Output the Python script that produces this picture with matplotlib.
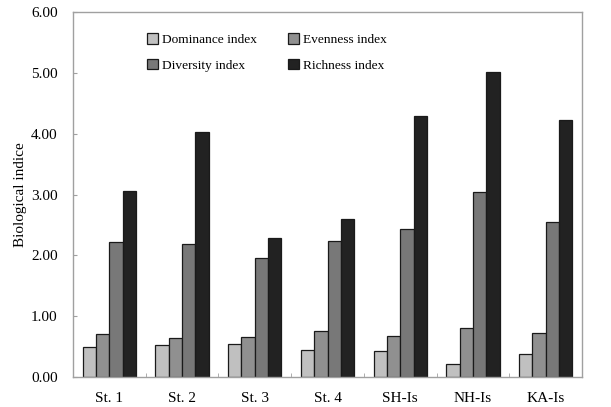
import numpy as np
import matplotlib.pyplot as plt

plt.rcParams['font.family'] = ['Liberation Serif', 'DejaVu Serif']

sites = ['St. 1', 'St. 2', 'St. 3', 'St. 4', 'SH-Is', 'NH-Is', 'KA-Is']
dominance = [0.49, 0.52, 0.54, 0.44, 0.42, 0.21, 0.37]
evenness = [0.71, 0.64, 0.66, 0.75, 0.67, 0.81, 0.73]
diversity = [2.22, 2.18, 1.95, 2.24, 2.43, 3.04, 2.55]
richness = [3.06, 4.03, 2.28, 2.60, 4.29, 5.01, 4.23]

series = [('Dominance index', dominance, '#c0c0c0'),
          ('Evenness index', evenness, '#909090'),
          ('Diversity index', diversity, '#787878'),
          ('Richness index', richness, '#222222')]

fig = plt.figure(figsize=(6.11, 4.07), dpi=100)
ax = fig.add_axes([73/611, 30/407, 509/611, 365/407])

x = np.arange(len(sites))
w = 0.183
bars = {}
for i, (name, vals, col) in enumerate(series):
    bars[name] = ax.bar(x + (i - 1.5) * w, vals, w, color=col,
                        edgecolor='#1a1a1a', linewidth=0.9, label=name)

ax.set_xlim(-0.5, len(sites) - 0.5)
ax.set_ylim(0, 6)
ax.set_yticks(np.arange(0, 7, 1))
ax.set_yticklabels(['%.2f' % v for v in np.arange(0, 7, 1)], fontsize=11)
ax.set_xticks(x)
ax.set_xticklabels(sites, fontsize=11)
ax.set_xticks(np.arange(0.5, len(sites) - 1, 1), minor=True)
ax.tick_params(axis='x', which='major', length=0, pad=11)
ax.tick_params(axis='x', which='minor', direction='in', length=3, color='#a0a0a0')
ax.tick_params(axis='y', direction='in', length=3, color='#a0a0a0', pad=11)
for s in ax.spines.values():
    s.set_color('#a0a0a0')
    s.set_linewidth(1.0)
ax.set_ylabel('Biological indice', fontsize=11, labelpad=3)

order = ['Dominance index', 'Diversity index', 'Evenness index', 'Richness index']
ax.legend([bars[n] for n in order], order, ncol=2, frameon=False, fontsize=9.6,
          loc='upper left', bbox_to_anchor=(0.122, 0.974), handlelength=0.8,
          handleheight=0.8, handletextpad=0.35, columnspacing=2.3, labelspacing=0.95)

fig.savefig('out.png', dpi=100)
